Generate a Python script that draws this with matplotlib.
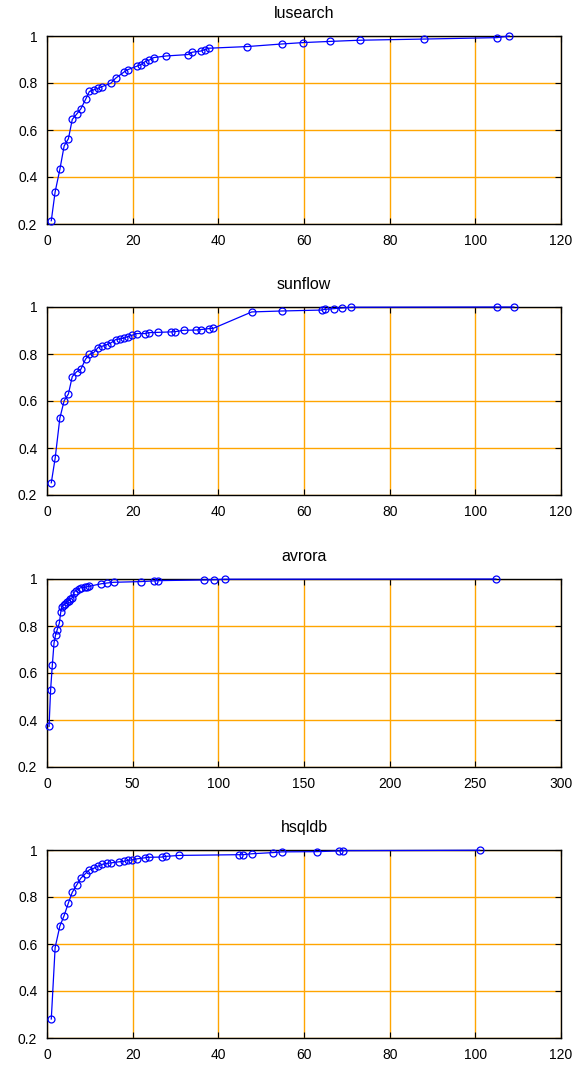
import matplotlib
matplotlib.use("Agg")
import matplotlib.pyplot as plt

plt.rcParams['font.family'] = ['Liberation Sans', 'DejaVu Sans']

titles = ["lusearch", "sunflow", "avrora", "hsqldb"]

lusearch_x = [1.0, 1.9, 3.0, 4.0, 5.0, 5.9, 6.9, 7.9, 9.0, 9.9, 10.9, 11.9, 12.9, 14.9, 16.0,
              18.0, 18.9, 20.9, 21.9, 22.9, 23.9, 24.9, 27.8, 32.9, 33.9, 35.9, 36.9, 37.8,
              46.7, 54.8, 59.8, 66.1, 73.0, 88.0, 105.0, 107.9]
lusearch_y = [0.214, 0.337, 0.432, 0.532, 0.563, 0.645, 0.667, 0.690, 0.730, 0.764, 0.771, 0.777,
              0.785, 0.799, 0.820, 0.847, 0.857, 0.871, 0.878, 0.891, 0.898, 0.908, 0.915, 0.921,
              0.931, 0.936, 0.942, 0.948, 0.955, 0.966, 0.972, 0.977, 0.982, 0.987, 0.993, 1.0]

sunflow_x = [1.0, 1.9, 3.0, 4.0, 5.0, 5.9, 6.9, 7.9, 9.0, 9.9, 10.9, 11.9, 12.9, 14.0, 14.9,
             16.0, 17.0, 18.0, 18.9, 19.9, 20.9, 22.9, 23.9, 25.8, 28.9, 29.9, 31.9, 34.9, 35.9,
             37.8, 38.8, 47.8, 54.8, 64.1, 64.9, 67.0, 68.9, 71.0, 105.0, 109.0]
sunflow_y = [0.252, 0.356, 0.527, 0.601, 0.630, 0.704, 0.724, 0.735, 0.778, 0.798, 0.806, 0.827,
             0.833, 0.840, 0.847, 0.861, 0.864, 0.868, 0.874, 0.880, 0.887, 0.887, 0.891, 0.892,
             0.894, 0.895, 0.901, 0.902, 0.904, 0.908, 0.909, 0.979, 0.983, 0.987, 0.990, 0.993,
             0.996, 0.999, 1.0, 1.0]

avrora_x = [1.2, 2.1, 3.1, 4.1, 5.0, 6.0, 7.2, 8.0, 8.7, 9.7, 10.7, 11.7, 12.6, 13.6, 14.8,
            15.7, 16.7, 18.6, 19.6, 22.1, 23.5, 24.7, 31.8, 35.1, 39.0, 55.0, 62.7, 64.7,
            91.7, 97.7, 103.9, 262.0]
avrora_y = [0.373, 0.528, 0.633, 0.728, 0.762, 0.785, 0.812, 0.858, 0.882, 0.889, 0.895, 0.902,
            0.908, 0.914, 0.921, 0.942, 0.950, 0.959, 0.963, 0.965, 0.967, 0.969, 0.980, 0.983,
            0.986, 0.989, 0.992, 0.993, 0.996, 0.997, 0.999, 1.0]

hsqldb_x = [1.0, 1.9, 3.0, 4.0, 5.0, 5.9, 6.9, 7.9, 9.0, 9.9, 10.9, 11.9, 12.9, 14.0, 14.9,
            16.9, 18.0, 18.9, 19.9, 20.9, 22.9, 23.9, 26.8, 27.8, 30.9, 44.8, 45.8, 47.8,
            52.8, 54.8, 63.0, 68.2, 69.0, 101.0]
hsqldb_y = [0.281, 0.585, 0.676, 0.721, 0.775, 0.820, 0.850, 0.880, 0.900, 0.916, 0.922, 0.931,
            0.939, 0.943, 0.945, 0.950, 0.952, 0.956, 0.958, 0.962, 0.967, 0.969, 0.970, 0.973,
            0.977, 0.980, 0.980, 0.984, 0.989, 0.992, 0.993, 0.996, 0.997, 0.999]

xs = [lusearch_x, sunflow_x, avrora_x, hsqldb_x]
ys = [lusearch_y, sunflow_y, avrora_y, hsqldb_y]
xmaxes = [120, 120, 300, 120]
xticks_list = [[0, 20, 40, 60, 80, 100, 120], [0, 20, 40, 60, 80, 100, 120],
               [0, 50, 100, 150, 200, 250, 300], [0, 20, 40, 60, 80, 100, 120]]
yticks = [0.2, 0.4, 0.6, 0.8, 1.0]
ytick_labels = ["0.2", "0.4", "0.6", "0.8", "1"]

W, H = 586, 1066
fig = plt.figure(figsize=(W / 100, H / 100), dpi=100)
fig.patch.set_facecolor("white")

left, right = 47, 561
tops = [36, 307, 579, 850]
ax_h = 188

for i in range(4):
    top = tops[i]
    ax = fig.add_axes([left / W, 1 - (top + ax_h) / H, (right - left) / W, ax_h / H])
    ax.set_xlim(0, xmaxes[i])
    ax.set_ylim(0.2, 1.0)
    ax.set_xticks(xticks_list[i])
    ax.set_xticklabels([str(t) for t in xticks_list[i]])
    ax.set_yticks(yticks)
    ax.set_yticklabels(ytick_labels)
    ax.grid(True, color="#FFA500", linewidth=1.0, linestyle="-")
    ax.set_axisbelow(True)
    ax.plot(xs[i], ys[i], color="blue", linewidth=0.9, marker="o", markersize=5,
            markerfacecolor="none", markeredgecolor="blue", markeredgewidth=0.9,
            clip_on=False, zorder=3)
    ax.tick_params(direction="in", length=4, width=0.8, top=True, right=True,
                   labelsize=10, colors="black", pad=7)
    for s in ax.spines.values():
        s.set_linewidth(1.0)
        s.set_color("black")
        s.set_zorder(2.5)
    ax.set_title(titles[i], fontsize=11.5, pad=13)

fig.savefig("out.png", dpi=100, facecolor="white")
